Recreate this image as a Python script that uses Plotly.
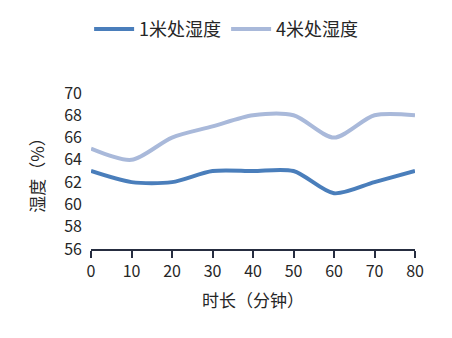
import plotly.graph_objects as go

minutes = [0, 10, 20, 30, 40, 50, 60, 70, 80]
hum_1m = [63, 62, 62, 63, 63, 63, 61, 62, 63]
hum_4m = [65, 64, 66, 67, 68, 68, 66, 68, 68]
y_ticks = [56, 58, 60, 62, 64, 66, 68, 70]

FONT = "Noto Sans CJK SC"

fig = go.Figure()
fig.add_trace(go.Scatter(x=minutes, y=hum_1m, mode="lines", name="1米处湿度",
                         line=dict(color="#4a7ebb", width=4, shape="spline", smoothing=0.8)))
fig.add_trace(go.Scatter(x=minutes, y=hum_4m, mode="lines", name="4米处湿度",
                         line=dict(color="#a9b9da", width=4, shape="spline", smoothing=0.8)))

fig.update_layout(
    width=452, height=338,
    margin=dict(l=91, r=37, t=92, b=89),
    paper_bgcolor="white", plot_bgcolor="white",
    font=dict(family=FONT, size=16, color="#262626"),
    showlegend=True,
    legend=dict(orientation="h", x=0.417, xanchor="center",
                y=1.40, yanchor="middle",
                font=dict(size=18, family=FONT), itemwidth=40,
                traceorder="normal"),
    xaxis=dict(range=[0, 80], tickvals=minutes, showgrid=False, zeroline=False,
               showline=True, linecolor="#262d40", linewidth=1.5,
               ticks="outside", ticklen=7, tickcolor="#262d40", tickwidth=1.5,
               title=dict(text="时长（分钟）", font=dict(size=17), standoff=14)),
    yaxis=dict(range=[56, 70], tickvals=y_ticks, showgrid=False, zeroline=False,
               showline=False, ticks="", ticklabelstandoff=8,
               title=dict(text="湿度（%）", font=dict(size=17), standoff=15)),
)
fig.write_html("out.html")
